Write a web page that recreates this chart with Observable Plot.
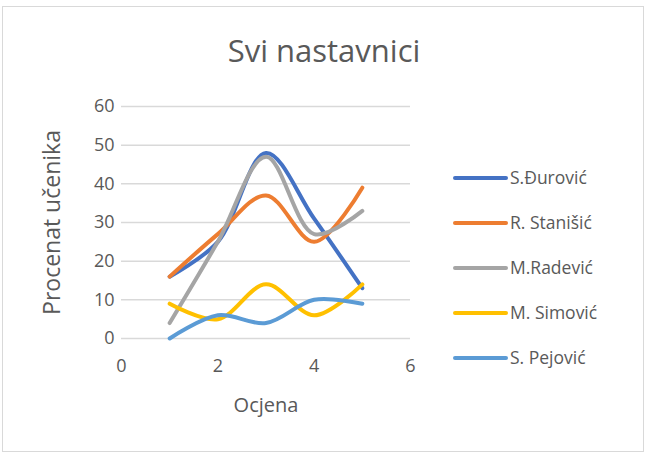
<!DOCTYPE html>
<html>
<head>
<meta charset="utf-8">
<script src="https://cdn.jsdelivr.net/npm/d3@7"></script>
<script src="https://cdn.jsdelivr.net/npm/@observablehq/plot@0.6"></script>
<style>
  html, body { margin: 0; padding: 0; background: #fff; }
  #wrap { position: relative; width: 648px; height: 454px; font-family: "Open Sans", sans-serif; color: #595959; }
  #frame { position: absolute; left: 2px; top: 6px; width: 642px; height: 446px; border: 1px solid #d9d9d9; box-sizing: border-box; pointer-events: none; }
  #title { position: absolute; left: 0; width: 648px; top: 30px; text-align: center; font-size: 31px; line-height: 40px; color: #595959; }
  #legend { position: absolute; left: 453px; top: 164px; }
  .item { position: relative; height: 45px; display: flex; align-items: flex-start; }
  .sw { width: 55px; height: 4px; border-radius: 2px; margin-top: 12px; }
  .lab { margin-left: 2px; font-size: 17.5px; line-height: 26px; color: #595959; }
</style>
</head>
<body>
<div id="wrap">
  <div id="chart"></div>
  <div id="title"></div>
  <div id="legend"></div>
  <div id="frame"></div>
</div>
<script>
const titleText = "Svi nastavnici";
const xLabel = "Ocjena";
const yLabel = "Procenat učenika";
const grades = [1, 2, 3, 4, 5];
const seriesNames = ["S.Đurović", "R. Stanišić", "M.Radević", "M. Simović", "S. Pejović"];
const seriesColors = ["#4472C4", "#ED7D31", "#A5A5A5", "#FFC000", "#5B9BD5"];
const durovic = [16, 25, 48, 31, 13];
const stanisic = [16, 27, 37, 25, 39];
const radevic = [4, 25, 47, 27, 33];
const simovic = [9, 5, 14, 6, 14];
const pejovic = [0, 6, 4, 10, 9];
const xTicks = [0, 2, 4, 6];
const yTicks = [0, 10, 20, 30, 40, 50, 60];

const allSeries = [durovic, stanisic, radevic, simovic, pejovic];
const data = [];
allSeries.forEach((vals, i) => {
  vals.forEach((v, j) => data.push({ name: seriesNames[i], x: grades[j], y: v }));
});

const chart = Plot.plot({
  width: 648,
  height: 454,
  marginLeft: 121,
  marginRight: 238,
  marginTop: 106,
  marginBottom: 116,
  style: { fontFamily: "Open Sans, sans-serif", fontSize: "18px", color: "#595959", background: "transparent" },
  x: { domain: [0, 6], label: null },
  y: { domain: [0, 60], label: null },
  color: { domain: seriesNames, range: seriesColors },
  marks: [
    Plot.gridY(yTicks, { stroke: "#d9d9d9", strokeOpacity: 1, strokeWidth: 1.5 }),
    Plot.axisX({ ticks: xTicks, tickFormat: "d", tickSize: 0, tickPadding: 21, fontSize: 18, label: null }),
    Plot.axisY({ ticks: yTicks, tickFormat: "d", tickSize: 0, tickPadding: 7, fontSize: 18, label: null }),
    Plot.line(data, { x: "x", y: "y", z: "name", stroke: "name", strokeWidth: 4, curve: "catmull-rom", strokeLinecap: "round" }),
    Plot.text([xLabel], { frameAnchor: "bottom", dy: 73, fontSize: 20, fill: "#595959", text: d => d }),
    Plot.text([yLabel], { frameAnchor: "left", textAnchor: "middle", dx: -69, rotate: -90, fontSize: 23, fill: "#595959", text: d => d })
  ]
});
document.getElementById("chart").appendChild(chart);
document.getElementById("title").textContent = titleText;

const legend = document.getElementById("legend");
seriesNames.forEach((n, i) => {
  const it = document.createElement("div");
  it.className = "item";
  const sw = document.createElement("div");
  sw.className = "sw";
  sw.style.background = seriesColors[i];
  const lab = document.createElement("div");
  lab.className = "lab";
  lab.textContent = n;
  it.appendChild(sw); it.appendChild(lab);
  legend.appendChild(it);
});
</script>
</body>
</html>
